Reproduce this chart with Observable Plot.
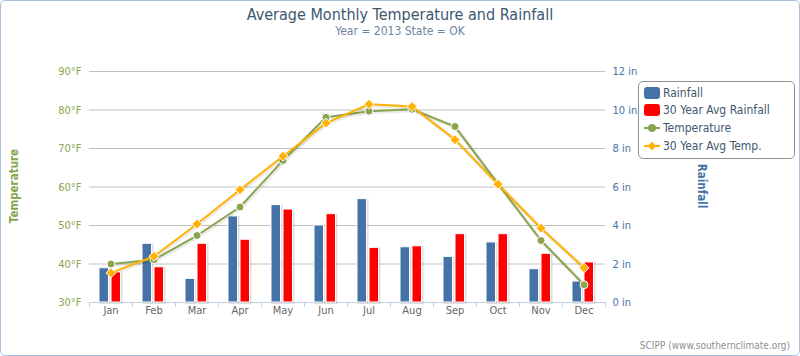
<!DOCTYPE html>
<html><head><meta charset="utf-8">
<script src="https://cdn.jsdelivr.net/npm/d3@7"></script>
<script src="https://cdn.jsdelivr.net/npm/@observablehq/plot@0.6"></script>
<style>
body{margin:0;background:#fff;}
#wrap{position:relative;width:800px;height:356px;overflow:hidden;font-family:"DejaVu Sans Condensed","DejaVu Sans",sans-serif;}
#border{position:absolute;left:0;top:0;width:798px;height:354px;border:1px solid #a9bfdc;border-radius:5px;pointer-events:none;}
#chart{position:absolute;left:0;top:0;}
.t{position:absolute;white-space:nowrap;}
#title{left:0;width:800px;text-align:center;top:6px;font-size:16px;line-height:17px;color:#3E576F;}
#subtitle{left:0;width:800px;text-align:center;top:25px;font-size:12px;line-height:13px;color:#6D869F;}
#credit{right:10px;top:340px;font-size:10px;color:#909090;}
#ytitleL{left:14px;top:186px;transform:translate(-50%,-50%) rotate(-90deg);font-size:11.5px;font-weight:bold;color:#89A54E;}
#ytitleR{left:702px;top:186px;transform:translate(-50%,-50%) rotate(90deg);font-size:11.5px;font-weight:bold;color:#4572A7;}
#legend{position:absolute;left:638px;top:81px;width:155px;height:76px;border:1px solid #909090;border-radius:5px;background:#fff;}
.li{position:absolute;left:0;height:18px;width:155px;}
.li span{position:absolute;left:24px;top:2px;font-size:12px;color:#3E576F;}
.sw{position:absolute;left:5px;top:3px;width:16px;height:12px;border-radius:3px;}
.ln{position:absolute;left:5px;top:8px;width:16px;height:2px;}
.dt{position:absolute;left:9px;top:5px;width:8px;height:8px;border-radius:50%;}
.dm{position:absolute;left:10px;top:6px;width:6px;height:6px;transform:rotate(45deg);}
</style></head>
<body>
<div id="wrap">
  <div id="chart"></div>
  <div class="t" id="title">Average Monthly Temperature and Rainfall</div>
  <div class="t" id="subtitle">Year = 2013 State = OK</div>
  <div class="t" id="ytitleL">Temperature</div>
  <div class="t" id="ytitleR">Rainfall</div>
  <div id="legend">
    <div class="li" style="top:2px"><div class="sw" style="background:#4572A7"></div><span>Rainfall</span></div>
    <div class="li" style="top:19px"><div class="sw" style="background:#FF0000"></div><span>30 Year Avg Rainfall</span></div>
    <div class="li" style="top:37px"><div class="ln" style="background:#89A54E"></div><div class="dt" style="background:#89A54E"></div><span>Temperature</span></div>
    <div class="li" style="top:55px"><div class="ln" style="background:#FFB300"></div><div class="dm" style="background:#FFB300"></div><span>30 Year Avg Temp.</span></div>
  </div>
  <div class="t" id="credit">SCIPP (www.southernclimate.org)</div>
  <div id="border"></div>
</div>
<script>
const months = ["Jan","Feb","Mar","Apr","May","Jun","Jul","Aug","Sep","Oct","Nov","Dec"];
const rainfall = [1.78,3.05,1.23,4.47,5.06,4.00,5.37,2.87,2.37,3.12,1.73,1.09];
const avgRainfall = [1.56,1.83,3.05,3.26,4.83,4.59,2.84,2.92,3.55,3.55,2.53,2.08];
const temperature = [40.0,41.1,47.4,54.8,66.9,78.1,79.7,80.2,75.7,60.8,46.1,34.6];
const avgTemp = [37.7,42.0,50.4,59.3,68.0,76.6,81.5,80.9,72.3,60.7,49.3,39.0];
const tempTicks = [30,40,50,60,70,80,90];
const rainTicks = [0,2,4,6,8,10,12];

// rainfall axis (0..12 in) shares the plot height with temperature (30..90 °F)
const rainToY = r => 30 + r * 5;
const yToRain = y => (y - 30) / 5;

const rows = months.map((m, i) => ({
  month: m, rain: rainfall[i], avgRain: avgRainfall[i], temp: temperature[i], avgTemp: avgTemp[i]
}));

const chart = Plot.plot({
  width: 800, height: 356,
  marginTop: 71, marginBottom: 54, marginLeft: 89, marginRight: 195,
  style: {fontFamily: '"DejaVu Sans Condensed","DejaVu Sans",sans-serif', fontSize: "11px", background: "transparent"},
  x: {domain: months, padding: 0, label: null},
  y: {domain: [30, 90], label: null},
  marks: [
    Plot.gridY(tempTicks.slice(1), {stroke: "#c0c0c0", strokeOpacity: 1}),
    Plot.ruleY([30], {stroke: "#c0d0e0"}),
    Plot.axisX({tickSize: 5, tickFormat: () => "", dx: -21.5, stroke: "#c0d0e0", label: null}),
    Plot.axisX(["Dec"], {tickSize: 5, tickFormat: () => "", dx: 21.5, stroke: "#c0d0e0", label: null}),
    Plot.axisX({tickSize: 0, tickPadding: 4, fill: "#666666", label: null}),
    Plot.axisY(tempTicks, {anchor: "left", tickSize: 0, tickPadding: 8, tickFormat: d => d + "°F", fill: "#89A54E", label: null}),
    Plot.axisY(rainTicks.map(rainToY), {anchor: "right", tickSize: 0, tickPadding: 7, tickFormat: d => yToRain(d) + " in", fill: "#4572A7", label: null}),
    // bar shadows
    Plot.barY(rows, {x: "month", y1: 30, y2: d => rainToY(d.rain), insetLeft: 10, insetRight: 23.5, dx: 1, dy: 1, fill: "none", stroke: "#000", strokeOpacity: 0.12, strokeWidth: 2}),
    Plot.barY(rows, {x: "month", y1: 30, y2: d => rainToY(d.avgRain), insetLeft: 22, insetRight: 11.5, dx: 1, dy: 1, fill: "none", stroke: "#000", strokeOpacity: 0.12, strokeWidth: 2}),
    Plot.barY(rows, {x: "month", y1: 30, y2: d => rainToY(d.rain), insetLeft: 10, insetRight: 23.5, fill: "#4572A7", stroke: "#fff", strokeWidth: 1}),
    Plot.barY(rows, {x: "month", y1: 30, y2: d => rainToY(d.avgRain), insetLeft: 22, insetRight: 11.5, fill: "#FF0000", stroke: "#fff", strokeWidth: 1}),
    // temperature
    Plot.line(rows, {x: "month", y: "temp", stroke: "#000", strokeOpacity: 0.08, strokeWidth: 4, dx: 1, dy: 1}),
    Plot.line(rows, {x: "month", y: "temp", stroke: "#89A54E", strokeWidth: 2}),
    Plot.dot(rows, {x: "month", y: "temp", r: 4, fill: "#89A54E", stroke: "#fff", strokeWidth: 1}),
    // 30-year average temperature
    Plot.line(rows, {x: "month", y: "avgTemp", stroke: "#000", strokeOpacity: 0.08, strokeWidth: 4, dx: 1, dy: 1}),
    Plot.line(rows, {x: "month", y: "avgTemp", stroke: "#FFB300", strokeWidth: 2}),
    Plot.dot(rows, {x: "month", y: "avgTemp", r: 4.5, symbol: "diamond2", fill: "#FFB300", stroke: "#fff", strokeWidth: 1})
  ]
});
document.getElementById("chart").appendChild(chart);
</script>
</body></html>
